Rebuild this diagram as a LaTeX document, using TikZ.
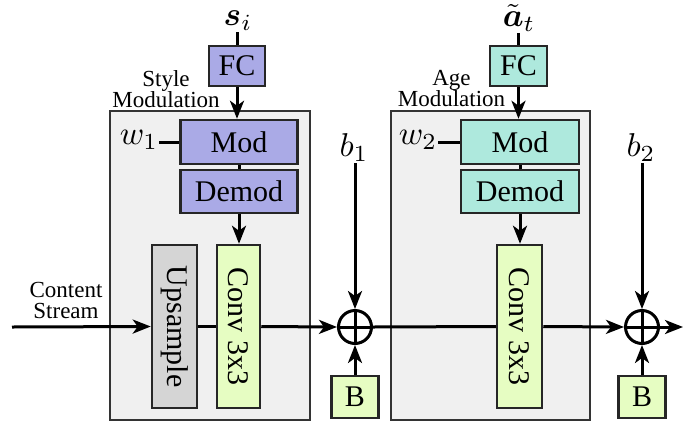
\documentclass[tikz,border=0pt]{standalone}
\usepackage{amsmath}
\usepackage{fontspec}
\setmainfont{Liberation Serif}
\usepackage{bm}
\usetikzlibrary{arrows.meta}

\definecolor{stylefill}{HTML}{AAAAE6}
\definecolor{agefill}{HTML}{AEE9DD}
\definecolor{convfill}{HTML}{E6FDC2}
\definecolor{upfill}{HTML}{D5D5D5}
\definecolor{panelfill}{HTML}{F0F0F0}

% math symbols set at 10pt and enlarged
\newcommand{\bigmath}[1]{\scalebox{3.3}{$#1$}}

\begin{document}
\begin{tikzpicture}[x=1pt,y=-1pt,
  big/.style={font=\fontsize{30}{30}\selectfont},
  mathlab/.style={font=\normalsize, inner sep=1pt},
  small/.style={font=\fontsize{23}{21}\selectfont, align=center, inner sep=0pt},
  blk/.style={draw=black!85, line width=2.5pt, inner sep=0pt, big},
  panel/.style={draw=black!80, line width=2.5pt, fill=panelfill},
  wire/.style={line width=3pt},
  arr/.style={wire, -{Stealth[length=18pt,width=14pt,inset=5pt]}},
  opl/.style={circle, draw, line width=3pt, minimum size=33pt, inner sep=0pt}]
\useasboundingbox (0,0) rectangle (683,424);

% background panels of the two modulated convolutions
\draw[panel] (110,111) rectangle (310,420);
\draw[panel] (391,111) rectangle (590,420);

% ---- style branch ----
\node[mathlab] (si) at (238,21) {\bigmath{\bm{s}_i}};
\node[blk, fill=stylefill, minimum width=56pt, minimum height=40pt] (fc1) at (237,66) {FC};
\node[blk, fill=stylefill, minimum width=117pt, minimum height=44pt] (mod1) at (239,142) {Mod};
\node[blk, fill=stylefill, minimum width=117pt, minimum height=43pt] (demod1) at (239,191.5) {Demod};
\node[blk, fill=upfill, minimum width=163pt, minimum height=45pt, rotate=-90] (up1) at (174.5,326.5) {Upsample};
\node[blk, fill=convfill, minimum width=163pt, minimum height=43pt, rotate=-90] (conv1) at (238.5,326.5) {Conv 3x3};
\node[mathlab] (w1) at (139,140) {\bigmath{w_1}};
\node[small] (lab1) at (166,89) {Style\\Modulation};
\node[small] (lab0) at (66,300) {Content\\Stream};

\node[opl] (op1) at (355,327) {};
\node[blk, fill=convfill, minimum width=47pt, minimum height=42pt] (B1) at (355,397) {B};
\node[mathlab] (b1) at (354,148) {\bigmath{b_1}};

% ---- age branch ----
\node[mathlab] (at) at (519,18) {\bigmath{\tilde{\bm{a}}_t}};
\node[blk, fill=agefill, minimum width=57pt, minimum height=40pt] (fc2) at (518.5,66) {FC};
\node[blk, fill=agefill, minimum width=118pt, minimum height=44pt] (mod2) at (520,142) {Mod};
\node[blk, fill=agefill, minimum width=118pt, minimum height=43pt] (demod2) at (520,191.5) {Demod};
\node[blk, fill=convfill, minimum width=163pt, minimum height=45pt, rotate=-90] (conv2) at (519.5,326.5) {Conv 3x3};
\node[mathlab] (w2) at (418,140) {\bigmath{w_2}};
\node[small] (lab2) at (451.5,89) {Age\\Modulation};

\node[opl] (op2) at (642,327) {};
\node[blk, fill=convfill, minimum width=47pt, minimum height=42pt] (B2) at (642,397) {B};
\node[mathlab] (b2) at (641,148) {\bigmath{b_2}};

\coordinate (cin) at (12,327);
\coordinate (cout) at (683,327);

% ---- connectors ----
\draw[wire] (si.south -| fc1.north) -- (fc1.north);
\draw[arr] (fc1.south) -- (fc1.south |- mod1.north);
\draw[wire] (mod1.south) -- (demod1.north);
\draw[arr] (demod1.south) -- (demod1.south |- conv1.west);
\draw[wire] (w1.east |- mod1.west) -- (mod1.west);

\draw[wire] (at.south -| fc2.north) -- (fc2.north);
\draw[arr] (fc2.south) -- (fc2.south |- mod2.north);
\draw[wire] (mod2.south) -- (demod2.north);
\draw[arr] (demod2.south) -- (demod2.south |- conv2.west);
\draw[wire] (w2.east |- mod2.west) -- (mod2.west);

\draw[arr] (cin) -- (up1.south);
\draw[wire] (up1.north) -- (conv1.south);
\draw[arr] (conv1.north) -- (op1.west);
\draw[arr] (b1.south -| op1.north) -- (op1.north);
\draw[arr] (B1.north) -- (op1.south);
\draw[wire] (op1.north) -- (op1.south) (op1.west) -- (op1.east);

\draw[wire] (op1.east) -- (conv2.south);
\draw[arr] (conv2.north) -- (op2.west);
\draw[arr] (b2.south -| op2.north) -- (op2.north);
\draw[arr] (B2.north) -- (op2.south);
\draw[wire] (op2.north) -- (op2.south) (op2.west) -- (op2.east);
\draw[arr] (op2.east) -- (cout);
\end{tikzpicture}
\end{document}
